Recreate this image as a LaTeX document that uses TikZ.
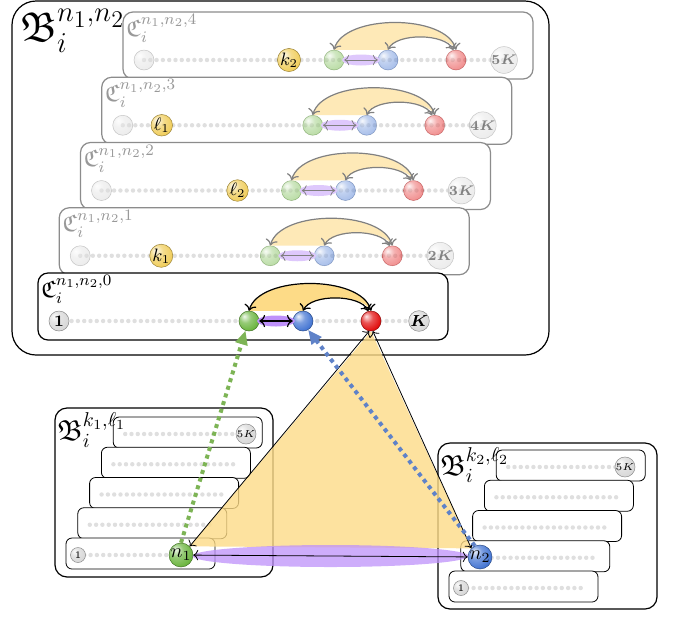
\documentclass[tikz,border=0pt]{standalone}
\usepackage{amsmath,amssymb}
\usepackage{xcolor}
\usepackage{tikz}
\usetikzlibrary{arrows.meta,calc}

\definecolor{tri}{RGB}{253,219,135}
\definecolor{lens}{RGB}{190,145,250}
\definecolor{lenslight}{RGB}{222,200,252}
\definecolor{gball}{RGB}{105,180,60}
\definecolor{bball}{RGB}{65,115,210}
\definecolor{rball}{RGB}{225,10,10}
\definecolor{yball}{RGB}{240,205,90}
\definecolor{wball}{RGB}{215,215,215}
\definecolor{gdot}{RGB}{125,180,85}
\definecolor{bdot}{RGB}{95,130,200}
\colorlet{beadc}{gray}

% softer ball shading for the beads
\pgfdeclareradialshading[beadc]{bead}{\pgfqpoint{-12bp}{12bp}}{%
  color(0bp)=(beadc!10!white); color(14bp)=(beadc!70!white);
  color(32bp)=(beadc); color(50bp)=(beadc!70!black); color(70bp)=(beadc!55!black)}

\begin{document}
\begin{tikzpicture}[
    x=0.5pt, y=-0.5pt,
    beadfill/.style={shade, shading=bead, /utils/exec={\colorlet{beadc}{#1}}, draw=#1!65!black, line width=0.25pt},
    bead/.style={circle, inner sep=0pt, minimum size=10pt, font=\footnotesize},
    minibead/.style={circle, inner sep=0pt, minimum size=7.5pt, font=\tiny, beadfill=wball},
    faded/.style={opacity=.45},
    dotrow/.style={gray!25, line width=2.2pt, line cap=round, dash pattern=on 0pt off 3.15pt},
    cardbox/.style={draw=black, fill=white, rounded corners=5pt, semithick},
    minicard/.style={draw=black, fill=white, rounded corners=3pt},
    bigbox/.style={draw=black, fill=white, semithick},
    clabel/.style={anchor=north west, inner sep=0pt, font=\large},
    arc/.style={<->, semithick},
    gdash/.style={gdot, line width=2pt, dash pattern=on 2pt off 2pt, -{Triangle[length=7pt,width=6pt]}},
    bdash/.style={bdot, line width=2pt, dash pattern=on 2pt off 2pt, -{Triangle[length=7pt,width=6pt]}}
]
  \useasboundingbox (0,0) rectangle (675,617);

  % outer block
  \draw[bigbox, rounded corners=12pt] (12,1) rectangle (549,355);
  \node[anchor=north west, inner sep=0pt, font=\huge] (Bnn) at (20,9) {$\mathfrak{B}_i^{n_1,n_2}$};

  % back cards (faded)
  \foreach \k/\lab/\pos in {4/{k_2}/166, 3/{\ell_1}/60, 2/{\ell_2}/157, 1/{k_1}/102} {
    \pgfmathsetmacro\X{38+21.25*\k}
    \pgfmathsetmacro\Y{273-65.25*\k}
    \pgfmathtruncatemacro\m{\k+1}
    \begin{scope}[shift={(\X,\Y)}]
      \draw[cardbox, draw=black!45] (0,0) rectangle (410,67);
      \node[clabel, text=black!40] at (3,2) {$\mathfrak{C}_i^{n_1,n_2,\k}$};
      \draw[dotrow] (21,48) -- (381,48);
      \node[bead, beadfill=wball, faded] (w\k) at (21,48) {};
      \node[bead, beadfill=yball, font=\small] (y\k) at (\pos,48) {$\lab$};
      \node[bead, beadfill=gball, faded] (g\k) at (211,48) {};
      \node[bead, beadfill=bball, faded] (b\k) at (265,48) {};
      \node[bead, beadfill=rball, faded] (r\k) at (333,48) {};
      \node[bead, beadfill=wball, faded, font=\scriptsize] (e\k) at (381,48) {$\boldsymbol{\m K}$};
      \fill[tri!60] (g\k.north) .. controls +(10,-36) and +(-10,-36) .. (r\k.north)
        .. controls +(-8,-17) and +(8,-17) .. (b\k.north) -- cycle;
      \fill[lenslight] ($(g\k)!.5!(b\k)$) ellipse [x radius=19, y radius=5.5];
      \draw[arc, black!50] (g\k.north) .. controls +(10,-36) and +(-10,-36) .. (r\k.north);
      \draw[arc, black!50] (b\k.north) .. controls +(8,-17) and +(-8,-17) .. (r\k.105);
      \draw[<->, black!50] (g\k) -- (b\k);
    \end{scope}
  }

  % front card
  \begin{scope}[shift={(38,273)}]
    \draw[cardbox] (0,0) rectangle (410,67);
    \node[clabel] at (3,2) {$\mathfrak{C}_i^{n_1,n_2,0}$};
    \draw[dotrow] (21,48) -- (381,48);
    \node[bead, beadfill=wball] (w0) at (21,48) {$\boldsymbol{1}$};
    \node[bead, beadfill=gball] (g0) at (211,48) {};
    \node[bead, beadfill=bball] (b0) at (265,48) {};
    \node[bead, beadfill=rball] (r0) at (333,48) {};
    \node[bead, beadfill=wball] (e0) at (381,48) {$\boldsymbol{K}$};
    \fill[tri] (g0.north) .. controls +(10,-36) and +(-10,-36) .. (r0.north)
      .. controls +(-8,-17) and +(8,-17) .. (b0.north) -- cycle;
    \fill[lens] ($(g0)!.5!(b0)$) ellipse [x radius=19, y radius=5.5];
    \draw[arc] (g0.north) .. controls +(10,-36) and +(-10,-36) .. (r0.north);
    \draw[arc] (b0.north) .. controls +(8,-17) and +(-8,-17) .. (r0.105);
    \draw[<->, semithick] (g0) -- (b0);
  \end{scope}

  % left lower block
  \draw[bigbox, rounded corners=6pt] (55,408) rectangle (273,577);
  \foreach \k in {4,3,2,1,0} {
    \pgfmathsetmacro\X{66+11.8*\k}
    \pgfmathsetmacro\Y{538-30.25*\k}
    \draw[minicard] (\X,\Y) rectangle ++(149,31);
    \draw[dotrow] (\X+12,\Y+17) -- ++(122,0);
  }
  \node[anchor=north west, inner sep=0pt, font=\Large] (Bkl) at (57,412) {$\mathfrak{B}_i^{k_1,\ell_1}$};
  \node[minibead] (l1) at (78,555) {1};
  \node[minibead] (l5K) at (246,434) {$5K$};
  \node[bead, minimum size=11pt, beadfill=gball, font=\normalsize] (n1) at (181,555) {$n_1$};

  % right lower block
  \draw[bigbox, rounded corners=6pt] (438,443) rectangle (657,609);
  \foreach \k in {4,3,2,1,0} {
    \pgfmathsetmacro\X{449+11.8*\k}
    \pgfmathsetmacro\Y{571-30.25*\k}
    \draw[minicard] (\X,\Y) rectangle ++(149,31);
    \draw[dotrow] (\X+12,\Y+17) -- ++(122,0);
  }
  \node[anchor=north west, inner sep=0pt, font=\Large] (Bkl2) at (440,447) {$\mathfrak{B}_i^{k_2,\ell_2}$};
  \node[minibead] (r1) at (461,588) {1};
  \node[minibead] (r5K) at (625,467) {$5K$};
  \node[bead, minimum size=11pt, beadfill=bball, font=\normalsize] (n2) at (480,557) {$n_2$};

  % merge
  \fill[tri, opacity=.8] (r0.south) -- (n1.north east) -- (n2.north west) -- cycle;
  \fill[lens, opacity=.75] ($(n1)!.5!(n2)$) ellipse [x radius=138, y radius=11];
  \draw[<->] (n1) -- (n2);
  \draw[<->] (n1.north east) -- (r0.-100);
  \draw[<->] (n2.north west) -- (r0.-80);
  \draw[gdash] (n1.north) -- (g0.-110);
  \draw[bdash] (n2.115) -- (b0.-60);
\end{tikzpicture}
\end{document}
